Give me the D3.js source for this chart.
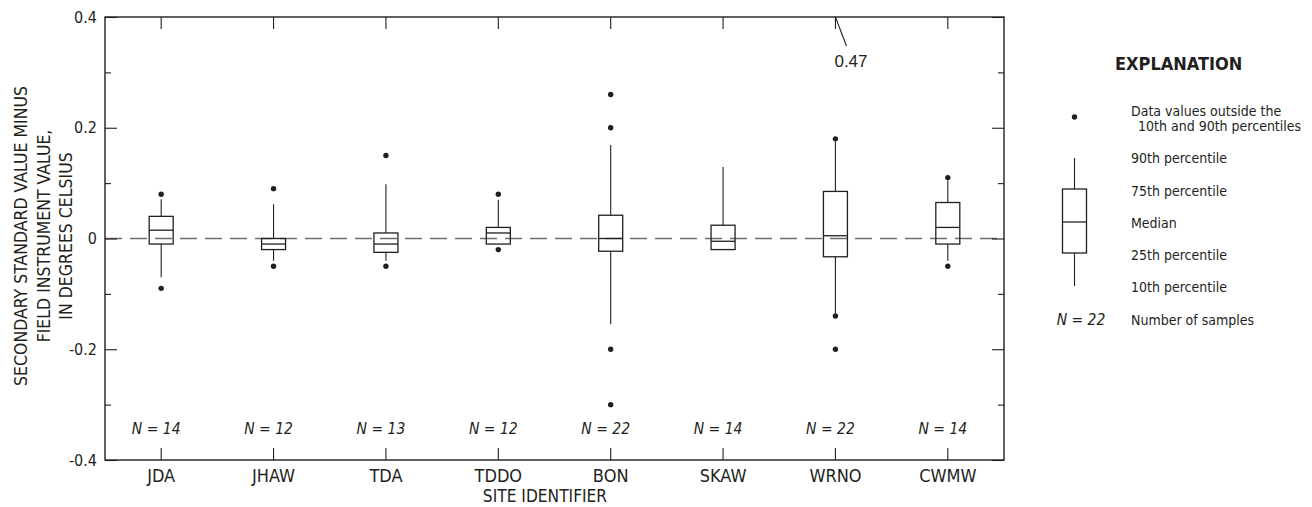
<!DOCTYPE html>
<html>
<head>
<meta charset="utf-8">
<script src="https://cdn.jsdelivr.net/npm/d3@7"></script>
<style>
  body { margin: 0; background: #fff; }
  text { fill: #231f20; font-family: "DejaVu Sans Condensed", "Liberation Sans Narrow", sans-serif; }
</style>
</head>
<body>
<div id="chart"></div>
<script>
// site identifiers and sample counts
var sites = ["JDA", "JHAW", "TDA", "TDDO", "BON", "SKAW", "WRNO", "CWMW"];
var nSamples = [14, 12, 13, 12, 22, 14, 22, 14];

// box statistics, degrees Celsius
var p10    = [-0.07, -0.04, -0.04, -0.01, -0.155, -0.02, -0.135, -0.04];
var q25    = [-0.01, -0.02, -0.025, -0.01, -0.023, -0.02, -0.033, -0.01];
var median = [0.015, -0.01, -0.01, 0.01, 0.0, -0.005, 0.005, 0.02];
var q75    = [0.04, 0.0, 0.01, 0.02, 0.042, 0.024, 0.085, 0.065];
var p90    = [0.071, 0.062, 0.098, 0.07, 0.169, 0.129, 0.175, 0.105];

// values outside the 10th and 90th percentiles
var outliers = [
  [0.08, -0.09],
  [0.09, -0.05],
  [0.15, -0.05],
  [0.08, -0.02],
  [0.26, 0.2, -0.2, -0.3],
  [],
  [0.47, 0.18, -0.14, -0.2],
  [0.11, -0.05]
];

var yMajor = [-0.4, -0.2, 0, 0.2, 0.4];
var yMinor = [-0.3, -0.1, 0.1, 0.3];

var width = 1312, height = 507;
var mLeft = 105, mRight = 1004, mTop = 17, mBottom = 460;

var svg = d3.select("#chart").append("svg")
  .attr("width", width)
  .attr("height", height);

var x = d3.scaleBand().domain(sites).range([mLeft, mRight]);
var y = d3.scaleLinear().domain([-0.4, 0.4]).range([mBottom, mTop]);
var cx = function(s) { return x(s) + x.bandwidth() / 2; };

// gather rows for the boxes
var rows = sites.map(function(s, i) {
  return { site: s, n: nSamples[i], p10: p10[i], q25: q25[i], med: median[i],
           q75: q75[i], p90: p90[i], out: outliers[i] };
});

// zero reference line
svg.append("line")
  .attr("x1", mLeft).attr("x2", mRight)
  .attr("y1", y(0)).attr("y2", y(0))
  .style("stroke", "#6d6e71")
  .style("stroke-width", 1.6)
  .style("stroke-dasharray", "17,8");

// axes, ticks point inward
function styleAxis(g) {
  g.select(".domain").remove();
  g.selectAll(".tick line").style("stroke", "#231f20").style("stroke-width", 1.1);
  g.selectAll("text").style("fill", "#231f20").style("font-family", null);
}

svg.append("g")
  .attr("transform", "translate(" + mLeft + ",0)")
  .call(d3.axisLeft(y).tickValues(yMajor).tickSize(-12).tickPadding(8).tickFormat(function(d) { return String(d); }))
  .call(styleAxis)
  .selectAll("text").style("font-size", "16px");

svg.append("g")
  .attr("transform", "translate(" + mLeft + ",0)")
  .call(d3.axisLeft(y).tickValues(yMinor).tickSize(-6).tickFormat(""))
  .call(styleAxis);

svg.append("g")
  .attr("transform", "translate(" + mRight + ",0)")
  .call(d3.axisRight(y).tickValues(yMajor).tickSize(-12).tickFormat(""))
  .call(styleAxis);

svg.append("g")
  .attr("transform", "translate(" + mRight + ",0)")
  .call(d3.axisRight(y).tickValues(yMinor).tickSize(-6).tickFormat(""))
  .call(styleAxis);

svg.append("g")
  .attr("transform", "translate(0," + mBottom + ")")
  .call(d3.axisBottom(x).tickSize(-12).tickPadding(9))
  .call(styleAxis)
  .selectAll("text").style("font-size", "18px");

svg.append("g")
  .attr("transform", "translate(0," + mTop + ")")
  .call(d3.axisTop(x).tickSize(-12).tickFormat(""))
  .call(styleAxis);

// frame
svg.append("rect")
  .attr("x", mLeft).attr("y", mTop)
  .attr("width", mRight - mLeft).attr("height", mBottom - mTop)
  .style("fill", "none")
  .style("stroke", "#231f20")
  .style("stroke-width", 1.4);

// boxes
var bw = 24;
var box = svg.append("g").selectAll("g")
  .data(rows)
  .enter().append("g");

box.append("line")
  .attr("x1", function(d) { return cx(d.site); })
  .attr("x2", function(d) { return cx(d.site); })
  .attr("y1", function(d) { return y(d.q75); })
  .attr("y2", function(d) { return y(d.p90); })
  .style("stroke", "#231f20").style("stroke-width", 1.1);

box.append("line")
  .attr("x1", function(d) { return cx(d.site); })
  .attr("x2", function(d) { return cx(d.site); })
  .attr("y1", function(d) { return y(d.q25); })
  .attr("y2", function(d) { return y(d.p10); })
  .style("stroke", "#231f20").style("stroke-width", 1.1);

box.append("rect")
  .attr("x", function(d) { return cx(d.site) - bw / 2; })
  .attr("y", function(d) { return y(d.q75); })
  .attr("width", bw)
  .attr("height", function(d) { return y(d.q25) - y(d.q75); })
  .style("fill", "none")
  .style("stroke", "#231f20").style("stroke-width", 1.3);

box.append("line")
  .attr("x1", function(d) { return cx(d.site) - bw / 2; })
  .attr("x2", function(d) { return cx(d.site) + bw / 2; })
  .attr("y1", function(d) { return y(d.med); })
  .attr("y2", function(d) { return y(d.med); })
  .style("stroke", "#231f20").style("stroke-width", 1.3);

box.selectAll("circle")
  .data(function(d) {
    return d.out.filter(function(v) { return v <= 0.4; })
      .map(function(v) { return { site: d.site, v: v }; });
  })
  .enter().append("circle")
  .attr("cx", function(d) { return cx(d.site); })
  .attr("cy", function(d) { return y(d.v); })
  .attr("r", 2.7)
  .style("fill", "#231f20");

// values above the scale get a leader line and a label
var offScale = [];
rows.forEach(function(d) {
  d.out.forEach(function(v) { if (v > 0.4) offScale.push({ site: d.site, v: v }); });
});

svg.selectAll(".off-line")
  .data(offScale)
  .enter().append("line")
  .attr("x1", function(d) { return cx(d.site); })
  .attr("y1", mTop)
  .attr("x2", function(d) { return cx(d.site) + 11; })
  .attr("y2", mTop + 29)
  .style("stroke", "#231f20").style("stroke-width", 1.1);

svg.selectAll(".off-label")
  .data(offScale)
  .enter().append("text")
  .attr("x", function(d) { return cx(d.site) - 1; })
  .attr("y", mTop + 50)
  .style("font-family", "'Liberation Sans', Arial, sans-serif")
  .style("font-size", "17px")
  .text(function(d) { return String(d.v); });

// sample counts
svg.append("g").selectAll("text")
  .data(rows)
  .enter().append("text")
  .attr("x", function(d) { return cx(d.site) - 5; })
  .attr("y", 434)
  .attr("text-anchor", "middle")
  .style("font-size", "15.5px")
  .style("font-style", "italic")
  .text(function(d) { return "N = " + d.n; });

// axis titles
svg.append("text")
  .attr("x", 545).attr("y", 502)
  .attr("text-anchor", "middle")
  .style("font-size", "17.2px")
  .text("SITE IDENTIFIER");

var yTitle = ["SECONDARY STANDARD VALUE MINUS", "FIELD INSTRUMENT VALUE,", "IN DEGREES CELSIUS"];
svg.append("g")
  .attr("transform", "translate(27,236) rotate(-90)")
  .selectAll("text")
  .data(yTitle)
  .enter().append("text")
  .attr("x", 0)
  .attr("y", function(d, i) { return i * 22.5; })
  .attr("text-anchor", "middle")
  .style("font-size", "17.5px")
  .text(function(d) { return d; });

// explanation
var lg = svg.append("g");
lg.append("text")
  .attr("x", 1115).attr("y", 70)
  .style("font-size", "18px")
  .style("font-weight", "bold")
  .text("EXPLANATION");

var lx = 1074.5;
var ly = { dot: 117, p90: 158, q75: 189, med: 222, q25: 253, p10: 286 };
lg.append("circle").attr("cx", lx).attr("cy", ly.dot).attr("r", 2.7).style("fill", "#231f20");
lg.append("line").attr("x1", lx).attr("x2", lx).attr("y1", ly.p90).attr("y2", ly.q75)
  .style("stroke", "#231f20").style("stroke-width", 1.1);
lg.append("line").attr("x1", lx).attr("x2", lx).attr("y1", ly.q25).attr("y2", ly.p10)
  .style("stroke", "#231f20").style("stroke-width", 1.1);
lg.append("rect").attr("x", lx - bw / 2).attr("y", ly.q75).attr("width", bw).attr("height", ly.q25 - ly.q75)
  .style("fill", "none").style("stroke", "#231f20").style("stroke-width", 1.3);
lg.append("line").attr("x1", lx - bw / 2).attr("x2", lx + bw / 2).attr("y1", ly.med).attr("y2", ly.med)
  .style("stroke", "#231f20").style("stroke-width", 1.3);

var legendText = [
  { t: "Data values outside the", x: 1131, y: 115.5 },
  { t: "10th and 90th percentiles", x: 1138, y: 130.5 },
  { t: "90th percentile", x: 1131, y: 163 },
  { t: "75th percentile", x: 1131, y: 196 },
  { t: "Median", x: 1131, y: 228 },
  { t: "25th percentile", x: 1131, y: 259.5 },
  { t: "10th percentile", x: 1131, y: 292 },
  { t: "Number of samples", x: 1131, y: 324.5 }
];
lg.selectAll(".lt")
  .data(legendText)
  .enter().append("text")
  .attr("x", function(d) { return d.x; })
  .attr("y", function(d) { return d.y; })
  .style("font-size", "14px")
  .text(function(d) { return d.t; });

lg.append("text")
  .attr("x", 1081).attr("y", 325)
  .attr("text-anchor", "middle")
  .style("font-size", "15.5px")
  .style("font-style", "italic")
  .text("N = 22");
</script>
</body>
</html>
